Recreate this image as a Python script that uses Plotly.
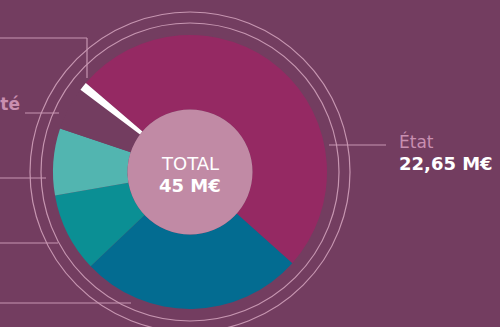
import plotly.graph_objects as go

W, H = 500, 327

labels = ["État", "Région", "Département", "Commune", "Communauté", "Autres"]
values = [22.65, 11.85, 4.2, 3.55, 2.3, 0.45]
colors = ["#952963", "#036c91", "#0b8f94", "#52b5b0", "#733d60", "#ffffff"]

total_label = "TOTAL"
total_value = "45 M€"
right_label = "État"
right_value = "22,65 M€"
left_label = "Communauté"

BG = "#733d60"
LINE = "#c796b1"
LABEL_COL = "#c98fb0"

cx, cy, R = 190, 172, 137
hole_r = 62.5


def px(x):
    return x / W


def py(y):
    return 1 - y / H


fig = go.Figure()
fig.add_trace(go.Pie(
    labels=labels, values=values, sort=False, direction="clockwise",
    rotation=-49.5, hole=hole_r / R,
    marker=dict(colors=colors, line=dict(width=0)),
    textinfo="none", hoverinfo="label+value", showlegend=False,
    domain=dict(x=[px(cx - R), px(cx + R)], y=[py(cy + R), py(cy - R)]),
))

shapes = []
# outer rings
for r in (149, 160):
    shapes.append(dict(type="circle", xref="paper", yref="paper",
                       x0=px(cx - r), x1=px(cx + r), y0=py(cy + r), y1=py(cy - r),
                       line=dict(color=LINE, width=1.2), layer="above"))
# inner total disc
shapes.append(dict(type="circle", xref="paper", yref="paper",
                   x0=px(cx - hole_r), x1=px(cx + hole_r),
                   y0=py(cy + hole_r), y1=py(cy - hole_r),
                   fillcolor="#c18aa5", line=dict(width=0), layer="above"))
# leader lines
leaders = [
    [(0, 38), (87, 38), (87, 78)],
    [(25, 113), (59, 113)],
    [(0, 178), (46, 178)],
    [(0, 243), (58, 243)],
    [(0, 303), (131, 303)],
    [(329, 145), (386, 145)],
]
for pts in leaders:
    for (x0, y0), (x1, y1) in zip(pts[:-1], pts[1:]):
        shapes.append(dict(type="line", xref="paper", yref="paper",
                           x0=px(x0), x1=px(x1), y0=py(y0), y1=py(y1),
                           line=dict(color=LINE, width=1.2), layer="above"))

ann = [
    dict(text=total_label, x=px(cx), y=py(164), xanchor="center", yanchor="middle",
         font=dict(family="DejaVu Sans", size=18, color="white")),
    dict(text="<b>" + total_value + "</b>", x=px(cx), y=py(185), xanchor="center", yanchor="middle",
         font=dict(family="DejaVu Sans", size=18, color="white")),
    dict(text=right_label, x=px(397), y=py(141), xanchor="left", yanchor="middle",
         font=dict(family="DejaVu Sans", size=17, color=LABEL_COL)),
    dict(text="<b>" + right_value + "</b>", x=px(397), y=py(164), xanchor="left", yanchor="middle",
         font=dict(family="DejaVu Sans", size=18, color="white")),
    dict(text="<b>" + left_label + "</b>", x=px(22), y=py(104), xanchor="right", yanchor="middle",
         font=dict(family="DejaVu Sans", size=17, color=LABEL_COL)),
]
for a in ann:
    a.update(xref="paper", yref="paper", showarrow=False)

fig.update_layout(
    width=W, height=H, margin=dict(l=0, r=0, t=0, b=0),
    paper_bgcolor=BG, plot_bgcolor=BG,
    shapes=shapes, annotations=ann,
)
fig.write_html("out.html")
